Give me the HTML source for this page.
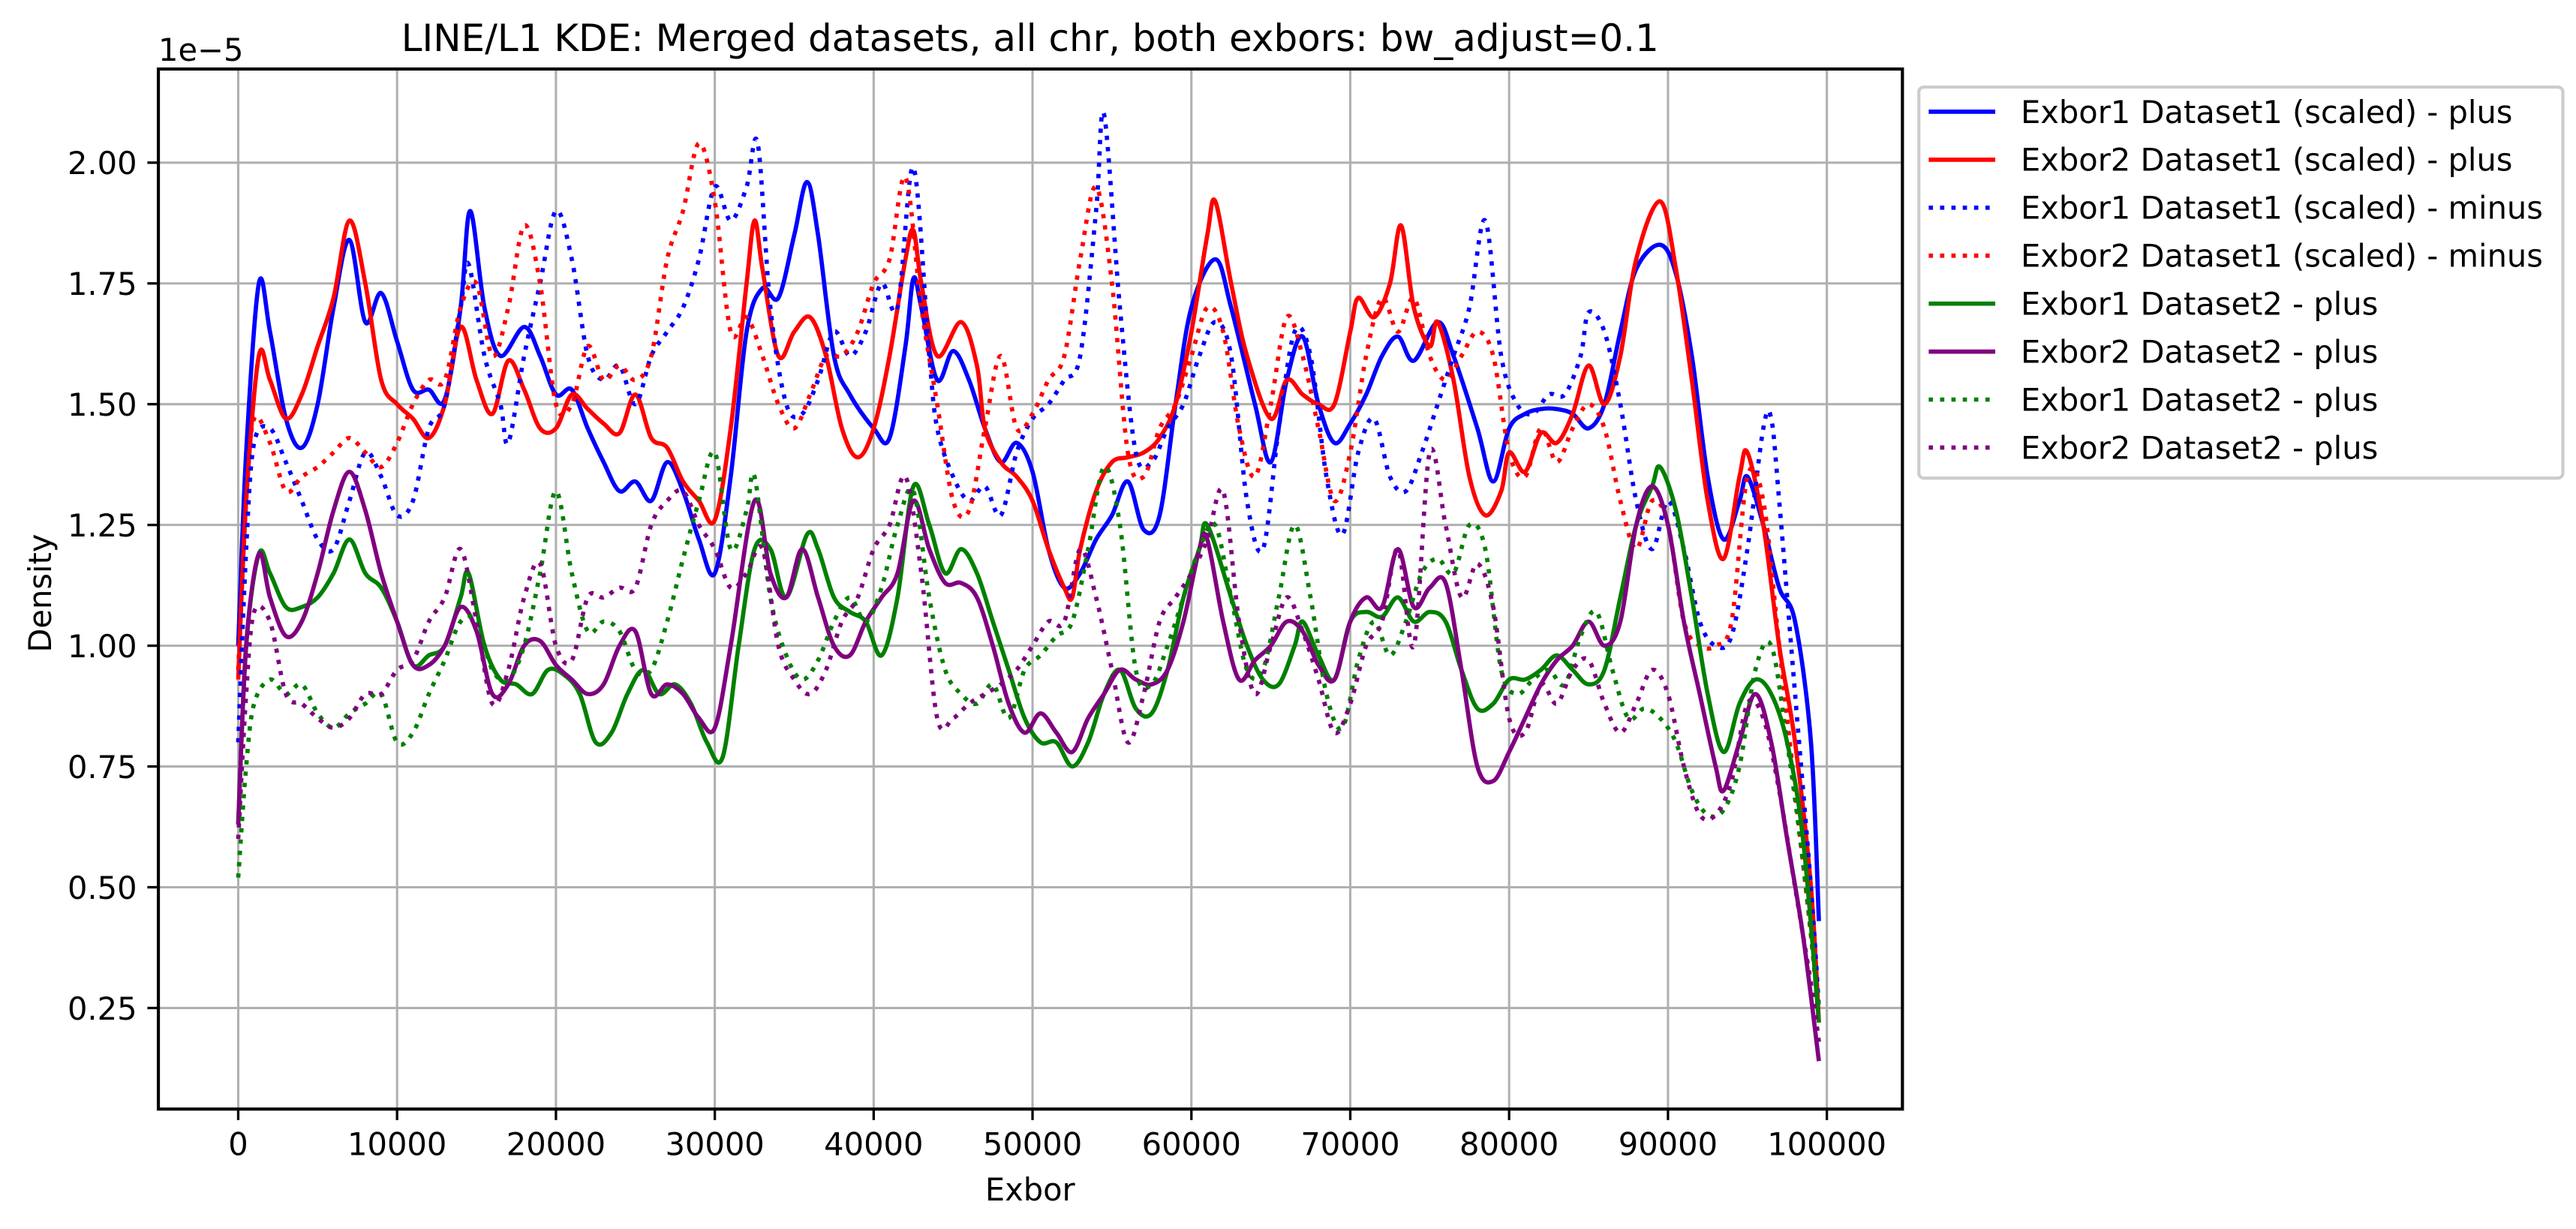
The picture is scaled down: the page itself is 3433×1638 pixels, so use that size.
<!DOCTYPE html>
<html><head><meta charset="utf-8"><style>
html,body{margin:0;padding:0;background:#fff}
svg{display:block;font-family:"DejaVu Sans","Liberation Sans",sans-serif}
</style></head><body>
<svg id="chart" width="3433" height="1638" viewBox="0 0 1568 748" preserveAspectRatio="none" xmlns="http://www.w3.org/2000/svg">
<rect width="1568" height="748" fill="#fff"/>
<g id="grid"></g>
<g id="series"></g>
<rect x="96.4" y="42" width="1061.6" height="633" fill="none" stroke="#000" stroke-width="1.9"/>
<g id="ticks" font-size="19" fill="#000"></g>
<text x="627" y="31" font-size="22.8" text-anchor="middle">LINE/L1 KDE: Merged datasets, all chr, both exbors: bw_adjust=0.1</text>
<text x="96.4" y="37" font-size="19">1e−5</text>
<text x="627" y="730.6" font-size="19" text-anchor="middle">Exbor</text>
<text x="0" y="0" font-size="19" text-anchor="middle" transform="translate(31,361) rotate(-90)">Density</text>
<g id="legend">
<rect x="1168" y="53" width="392" height="238" rx="3" fill="#fff" fill-opacity="0.8" stroke="#cccccc" stroke-width="1.9"/>
</g>
</svg>
<script>
const NS="http://www.w3.org/2000/svg";
const xTicks=[0,10000,20000,30000,40000,50000,60000,70000,80000,90000,100000];
const yTicks=[0.25,0.5,0.75,1.0,1.25,1.5,1.75,2.0];
const seriesNames=["Exbor1 Dataset1 (scaled) - plus","Exbor2 Dataset1 (scaled) - plus","Exbor1 Dataset1 (scaled) - minus","Exbor2 Dataset1 (scaled) - minus","Exbor1 Dataset2 - plus","Exbor2 Dataset2 - plus","Exbor1 Dataset2 - plus","Exbor2 Dataset2 - plus"];
// x in thousands, y in 1e-5
const xs1=[0,0.5,1.3,2,3,4,5,6,7,8,9,10,11,12,13,14,14.6,15.5,16.5,18,19,20,21,22,23,24,25,26,27,28,29,30,31,32,33,34,35,35.8,36.5,37.5,38.5,40,41,42,42.5,43,44,45,46,47,48,49,50,51,52,53,54,55,56,57,58,59,60,61.5,62.5,64,65,66,67,68,69,70,71,72,73,74,75.5,76.5,78,79,80,81,82,83,84,85,86,87,88,89.5,90.5,91.5,92.5,93.5,94.5,95,96,97,98,99,99.5];
const ys1=[1.0,1.4,1.75,1.65,1.47,1.41,1.5,1.7,1.84,1.67,1.73,1.63,1.53,1.53,1.51,1.7,1.9,1.7,1.6,1.66,1.6,1.52,1.53,1.45,1.38,1.32,1.34,1.3,1.38,1.32,1.22,1.15,1.35,1.65,1.74,1.72,1.85,1.96,1.85,1.6,1.52,1.45,1.43,1.62,1.76,1.7,1.55,1.61,1.55,1.45,1.38,1.42,1.36,1.2,1.12,1.15,1.22,1.27,1.34,1.24,1.27,1.5,1.7,1.8,1.7,1.5,1.38,1.55,1.64,1.5,1.42,1.46,1.52,1.6,1.64,1.59,1.67,1.6,1.45,1.34,1.45,1.48,1.49,1.49,1.48,1.45,1.5,1.65,1.78,1.83,1.77,1.6,1.35,1.22,1.3,1.35,1.25,1.12,1.05,0.8,0.43];
const xs2=[0,0.5,1.3,2,3,4,5,6,7,8,9,10,11,12,13,14,15,16,17,18,19,20,21,22,23,24,25,26,27,28,29,30,31,32,32.5,33,34,35,36,37,38,39,40,41,42,42.5,43,44,45.5,46.5,47,48,49,50,51,52,52.5,53,54,55,56,57,58,59,60,61,61.5,62.5,63.5,65,66,67,68,69,70,70.5,71.5,72.5,73.2,74,75,75.5,76.5,77.5,78.5,79.5,80,81,82,83,84,85,86,87,88,89.5,90.5,91.5,92.5,93.5,94.5,95,96,97,98,99,99.5];
const ys2=[0.93,1.3,1.6,1.55,1.47,1.52,1.62,1.72,1.88,1.75,1.55,1.5,1.47,1.43,1.5,1.66,1.55,1.48,1.59,1.53,1.45,1.45,1.52,1.49,1.46,1.44,1.52,1.43,1.41,1.34,1.3,1.26,1.45,1.75,1.88,1.78,1.6,1.65,1.68,1.6,1.45,1.39,1.45,1.6,1.8,1.86,1.75,1.6,1.67,1.58,1.45,1.38,1.35,1.3,1.2,1.12,1.1,1.2,1.32,1.38,1.39,1.4,1.43,1.5,1.65,1.85,1.92,1.75,1.6,1.47,1.55,1.52,1.5,1.5,1.65,1.72,1.68,1.75,1.87,1.7,1.62,1.67,1.55,1.35,1.27,1.32,1.4,1.36,1.44,1.42,1.48,1.58,1.5,1.6,1.8,1.92,1.78,1.55,1.3,1.18,1.35,1.4,1.25,1.0,0.8,0.5,0.22];
const xs3=[0,0.5,1,2,3,4,5,6,7,8,9,10,11,12,13,14,14.5,15.5,16.5,17,18,19,20,21,22,23,24,25,26,27,28,29,30,31,32,32.7,33.5,34.5,35.5,36.5,37.5,38.5,39.5,40.5,41.5,42.5,43.5,44,45,46,47,48,49,50,51,52,53,54,54.5,55.5,56.5,57.5,58.5,59.5,60.5,61.5,62.5,63.5,64.5,65.5,66.5,67.5,68.5,69.5,70.5,71.5,72.5,73.5,74.5,75.5,76.5,77.5,78.5,79.5,80.5,81.5,82.5,83.5,84.5,85,86,87,88,89,90,91,92,93,94,95,96,96.5,97,98,99,99.5];
const ys3=[0.8,1.2,1.42,1.45,1.38,1.3,1.22,1.2,1.3,1.4,1.35,1.27,1.3,1.45,1.5,1.7,1.79,1.6,1.5,1.42,1.6,1.75,1.9,1.8,1.6,1.55,1.58,1.5,1.6,1.65,1.7,1.8,1.95,1.88,1.95,2.04,1.7,1.5,1.48,1.55,1.65,1.6,1.65,1.75,1.7,1.99,1.6,1.45,1.35,1.3,1.33,1.27,1.4,1.47,1.5,1.55,1.6,1.9,2.1,1.7,1.4,1.38,1.45,1.5,1.6,1.67,1.6,1.3,1.2,1.45,1.65,1.6,1.35,1.23,1.4,1.47,1.35,1.32,1.4,1.5,1.6,1.7,1.88,1.6,1.5,1.48,1.52,1.52,1.6,1.69,1.65,1.5,1.3,1.2,1.3,1.2,1.05,1.0,1.02,1.2,1.45,1.47,1.3,0.9,0.5,0.25];
const xs4=[0,0.5,1,2,3,4,5,6,7,8,9,10,11,12,13,14,15,16,17,18,19,20,21,22,23,24,25,26,27,28,29,30,31,32,33,34,35,36,37,38,39,40,41,42,43,44,45,46,47,48,49,50,51,52,53,54,55,56,57,58,59,60,61,62,63,64,65,66,67,68,69,70,71,72,73,74,75,76,77,78,79,80,81,82,83,84,85,86,87,88,89,90,91,92,93,94,95,96,97,98,99,99.5];
const ys4=[0.95,1.3,1.47,1.42,1.32,1.35,1.37,1.4,1.43,1.4,1.37,1.42,1.5,1.55,1.55,1.7,1.75,1.6,1.7,1.87,1.75,1.5,1.5,1.62,1.55,1.58,1.55,1.6,1.8,1.9,2.04,1.92,1.65,1.68,1.6,1.5,1.45,1.52,1.6,1.6,1.65,1.75,1.8,1.97,1.7,1.5,1.3,1.28,1.45,1.6,1.45,1.48,1.55,1.6,1.8,1.95,1.75,1.4,1.35,1.45,1.5,1.6,1.7,1.65,1.45,1.35,1.5,1.68,1.6,1.45,1.3,1.4,1.6,1.72,1.65,1.72,1.6,1.55,1.6,1.65,1.6,1.4,1.35,1.45,1.38,1.45,1.5,1.45,1.3,1.2,1.3,1.25,1.05,1.0,1.0,1.05,1.35,1.3,1.0,0.7,0.4,0.22];
const xs5=[0,0.5,1.3,2,3,4,5,6,7,8,9,10,11,12,13,14,14.5,15.5,16.5,17.5,18.5,19.5,20.5,21.5,22.5,23.5,24.5,25.5,26.5,27.5,28.5,29.5,30.5,31.5,32.5,33.5,34.5,35.8,36.5,37.5,38.5,39.5,40.5,41.5,42.5,43.5,44.5,45.5,46.5,47.5,48.5,49.5,50.5,51.5,52.5,53.5,54.5,55.5,56.5,57.5,58.5,59.5,60.5,61,62.5,63.5,64.5,65.5,66.5,67,68,69,70,71,72,73,74,75,76,77,78,79,80,81,82,83,84,85,86,87,88,89,89.5,90.5,91.5,92.5,93.5,94.5,95.5,96.5,97.5,98.5,99.5];
const ys5=[0.63,1.0,1.19,1.15,1.08,1.08,1.1,1.15,1.22,1.15,1.12,1.05,0.96,0.98,1.0,1.1,1.15,1.0,0.93,0.92,0.9,0.95,0.94,0.9,0.8,0.82,0.9,0.95,0.9,0.92,0.88,0.8,0.77,1.0,1.2,1.2,1.1,1.23,1.2,1.1,1.07,1.05,0.98,1.1,1.33,1.25,1.15,1.2,1.15,1.05,0.95,0.85,0.8,0.8,0.75,0.8,0.9,0.95,0.87,0.86,0.95,1.1,1.2,1.25,1.1,1.0,0.93,0.92,1.0,1.05,0.98,0.93,1.05,1.07,1.06,1.1,1.05,1.07,1.05,0.95,0.87,0.88,0.93,0.93,0.95,0.98,0.95,0.92,0.95,1.1,1.25,1.33,1.37,1.28,1.1,0.9,0.78,0.88,0.93,0.9,0.8,0.6,0.22];
const xs6=[0,0.5,1.3,2,3,4,5,6,7,8,9,10,11,12,13,14,15,16,17,18,19,20,21,22,23,24,25,26,27,28,29,30,31,32.5,33.5,34.5,35.5,36.5,37.5,38.5,39.5,40.5,41.5,42.5,43.5,44.5,45.5,46.5,47.5,48.5,49.5,50.5,51.5,52.5,53.5,54.5,55.5,56.5,57.5,58.5,59.5,60.5,61,62,63,64,65,66,67,68,69,70,71,72,73,74,75,76,77,78,79,80,81,82,83,84,85,86,87,88,89,90,91,92,93,93.5,94.5,95.5,96.5,97.5,98.5,99.5];
const ys6=[0.63,1.0,1.19,1.1,1.02,1.05,1.15,1.28,1.36,1.28,1.15,1.05,0.96,0.96,1.0,1.08,1.03,0.9,0.92,1.0,1.01,0.96,0.93,0.9,0.92,1.0,1.03,0.9,0.92,0.9,0.85,0.83,1.0,1.3,1.15,1.1,1.2,1.1,1.0,0.98,1.05,1.1,1.15,1.3,1.2,1.13,1.13,1.1,1.0,0.88,0.82,0.86,0.82,0.78,0.85,0.9,0.95,0.93,0.92,0.95,1.05,1.2,1.22,1.05,0.93,0.97,1.0,1.05,1.03,0.96,0.93,1.05,1.1,1.08,1.2,1.08,1.12,1.13,0.95,0.75,0.72,0.78,0.85,0.92,0.97,1.0,1.05,1.0,1.05,1.25,1.33,1.25,1.05,0.9,0.75,0.7,0.8,0.9,0.8,0.6,0.4,0.14];
const xs7=[0,0.5,1,2,3,4,5,6,7,8,9,10,11,12,13,14,15,16,17,18,19,20,21,22,23,24,25,26,27,28,29,30,31,32,32.5,33.5,34.5,35.5,36.5,37.5,38.5,39.5,40.5,41.5,42.5,43.5,44.5,45.5,46.5,47.5,48.5,49.5,50.5,51.5,52.5,53.5,54.5,55.5,56.5,57.5,58.5,59.5,60.5,61.5,62.5,63.5,64.5,65.5,66.5,67.5,68.5,69.5,70.5,71.5,72.5,73.5,74.5,75.5,76.5,77.5,78.5,79.5,80.5,81.5,82.5,83.5,84.5,85.5,86.5,87.5,88.5,89.5,90.5,91.5,92.5,93.5,94.5,95.5,96.5,97.5,98.5,99.5];
const ys7=[0.52,0.75,0.88,0.93,0.9,0.92,0.86,0.83,0.86,0.88,0.9,0.8,0.82,0.9,0.97,1.05,1.05,0.95,0.93,1.0,1.15,1.32,1.15,1.03,1.05,1.03,0.95,0.95,1.05,1.18,1.3,1.4,1.2,1.28,1.35,1.1,0.98,0.93,0.97,1.05,1.1,1.05,1.12,1.25,1.32,1.1,0.95,0.9,0.88,0.92,0.85,0.95,0.98,1.02,1.05,1.2,1.37,1.25,0.95,0.92,1.0,1.1,1.2,1.25,1.1,0.95,0.95,1.1,1.25,1.1,0.9,0.83,0.97,1.05,0.98,1.05,1.15,1.18,1.15,1.25,1.2,0.95,0.9,0.93,0.95,0.92,1.02,1.07,0.95,0.85,0.87,0.85,0.8,0.7,0.65,0.66,0.75,0.95,1.0,0.8,0.55,0.25];
const xs8=[0,0.5,1,2,3,4,5,6,7,8,9,10,11,12,13,14,15,16,17,18,19,20,21,22,23,24,25,26,27,28,29,30,31,32,33,34,35,36,37,38,39,40,41,42,43,44,45,46,47,48,49,50,51,52,53,54,55,56,57,58,59,60,61,62,63,64,65,66,67,68,69,70,71,72,73,74,75,76,77,78,79,80,81,82,83,84,85,86,87,88,89,90,91,92,93,94,95,96,97,98,99,99.5];
const ys8=[0.6,0.9,1.07,1.05,0.9,0.88,0.85,0.83,0.85,0.9,0.9,0.95,0.97,1.05,1.1,1.2,1.05,0.88,0.95,1.1,1.17,1.0,0.97,1.1,1.1,1.12,1.12,1.25,1.3,1.32,1.25,1.2,1.12,1.15,1.2,1.0,0.93,0.9,0.95,1.05,1.1,1.2,1.25,1.35,1.15,0.85,0.85,0.88,0.9,0.92,0.95,1.0,1.05,1.05,1.2,1.1,0.95,0.8,0.9,1.05,1.1,1.15,1.22,1.32,1.05,0.9,1.0,1.1,1.03,0.93,0.82,0.88,1.0,1.05,1.2,1.0,1.4,1.25,1.1,1.17,1.08,0.85,0.82,0.92,0.88,0.95,0.97,0.88,0.82,0.88,0.95,0.9,0.75,0.65,0.65,0.72,0.88,0.85,0.7,0.5,0.3,0.18];
const allX=[xs1,xs2,xs3,xs4,xs5,xs6,xs7,xs8];
const allY=[ys1,ys2,ys3,ys4,ys5,ys6,ys7,ys8];
const colors=["#0000ff","#ff0000","#0000ff","#ff0000","#008000","#800080","#008000","#800080"];
const dotted=[false,false,true,true,false,false,true,true];
const keys=["exbor1-dataset1-plus","exbor2-dataset1-plus","exbor1-dataset1-minus","exbor2-dataset1-minus","exbor1-dataset2-plus","exbor2-dataset2-plus","exbor1-dataset2-plus-dotted","exbor2-dataset2-plus-dotted"];

const X0=145,X1=1112,YT=99,PL=96.4,PR=1158,PT=42,PB=675;
const LW=2.6,DASH='2.6,4.3';
function sx(v){return X0+(v/100000)*(X1-X0);}
function sy(v){return YT+(2.0-v)*(613.5-YT)/1.75;}
function mk(tag,attrs){const e=document.createElementNS(NS,tag);for(const k in attrs)e.setAttribute(k,attrs[k]);return e;}

const grid=document.getElementById('grid'),ticks=document.getElementById('ticks');
xTicks.forEach(t=>{
  const x=sx(t);
  const g=mk('line',{x1:x,x2:x,y1:PT,y2:PB,stroke:'#b0b0b0','stroke-width':1.4});
  
  
  grid.appendChild(g);
  const tk=mk('line',{x1:x,x2:x,y1:PB,y2:PB+6.7,stroke:'#000','stroke-width':1.5});
  
  
  ticks.appendChild(tk);
  const lb=mk('text',{x:x,y:703,'text-anchor':'middle'});
  
  
  lb.textContent=String(t);ticks.appendChild(lb);
});
yTicks.forEach(t=>{
  const y=sy(t);
  const g=mk('line',{x1:PL,x2:PR,y1:y,y2:y,stroke:'#b0b0b0','stroke-width':1.4});
  
  
  grid.appendChild(g);
  const tk=mk('line',{x1:PL-6.7,x2:PL,y1:y,y2:y,stroke:'#000','stroke-width':1.5});
  
  
  ticks.appendChild(tk);
  const lb=mk('text',{x:PL-13,y:y+7,'text-anchor':'end'});
  
  
  lb.textContent=t.toFixed(2);ticks.appendChild(lb);
});

function pathFor(xs,ys){
  const p=xs.map((x,i)=>[sx(x*1000),sy(ys[i])]);
  let d='M'+p[0][0].toFixed(2)+','+p[0][1].toFixed(2);
  for(let i=0;i<p.length-1;i++){
    const p0=p[i-1]||p[i],p1=p[i],p2=p[i+1],p3=p[i+2]||p2;
    const c1=[p1[0]+(p2[0]-p0[0])/6,p1[1]+(p2[1]-p0[1])/6];
    const c2=[p2[0]-(p3[0]-p1[0])/6,p2[1]-(p3[1]-p1[1])/6];
    d+='C'+c1[0].toFixed(2)+','+c1[1].toFixed(2)+' '+c2[0].toFixed(2)+','+c2[1].toFixed(2)+' '+p2[0].toFixed(2)+','+p2[1].toFixed(2);
  }
  return d;
}
const sg=document.getElementById('series');
allX.forEach((xs,i)=>{
  const a={d:pathFor(xs,allY[i]),fill:'none',stroke:colors[i],'stroke-width':LW,'stroke-linejoin':'round'};
  if(dotted[i]){a['stroke-dasharray']=DASH;}
  const p=mk('path',a);
  
  
  sg.appendChild(p);
});
const lg=document.getElementById('legend');
seriesNames.forEach((n,i)=>{
  const y=68+i*29.2;
  const g=mk('g',{});
  
  
  const a={x1:1174,x2:1214.5,y1:y,y2:y,stroke:colors[i],'stroke-width':LW};
  if(dotted[i])a['stroke-dasharray']=DASH;
  const l=mk('line',a);
  
  
  g.appendChild(l);
  const t=mk('text',{x:1230,y:y+6.8,'font-size':19});
  
  
  t.textContent=n;g.appendChild(t);
  lg.appendChild(g);
});
</script>
</body></html>
